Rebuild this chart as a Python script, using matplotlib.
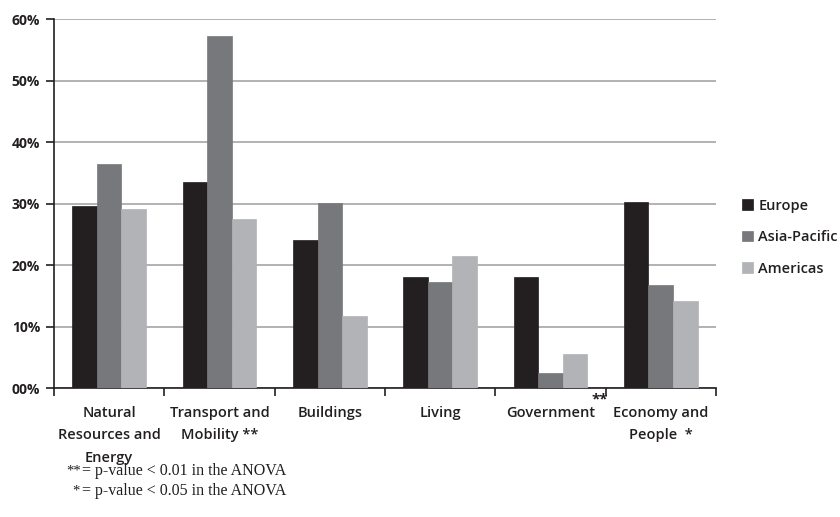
import matplotlib
matplotlib.use("Agg")
import matplotlib.pyplot as plt
import numpy as np
from matplotlib.ticker import FuncFormatter, FixedLocator

categories = ["Natural\nResources and\nEnergy", "Transport and\nMobility **", "Buildings",
              "Living", "Government", "Economy and\nPeople  *"]
series = ["Europe", "Asia-Pacific", "Americas"]
europe = [29.6, 33.5, 24.1, 18.0, 18.0, 30.2]
asia = [36.4, 57.2, 30.1, 17.2, 2.5, 16.7]
americas = [29.1, 27.5, 11.7, 21.5, 5.6, 14.1]
colors = ["#231f20", "#77787b", "#b1b3b6"]
yticks = [0, 10, 20, 30, 40, 50, 60]

font = "Open Sans"
fig = plt.figure(figsize=(8.4, 5.17), dpi=100)
ax = fig.add_axes([0.0643, 0.2495, 0.788, 0.7137])

n = len(categories)
x = np.arange(n)
w = 0.223
for i, (vals, c, name) in enumerate(zip([europe, asia, americas], colors, series)):
    ax.bar(x + (i - 1) * w, vals, width=w, color=c, edgecolor=c, linewidth=0.5, label=name, zorder=3)

ax.set_xlim(-0.5, n - 0.5)
ax.set_ylim(0, 60)
ax.set_yticks(yticks)
ax.yaxis.set_major_formatter(FuncFormatter(lambda v, p: "%02d%%" % v))
ax.grid(axis="y", color="#a6a6a6", linewidth=1.2, zorder=0)
ax.set_axisbelow(True)
for s in ["top", "right"]:
    ax.spines[s].set_visible(False)
ax.spines["left"].set_color("#231f20")
ax.spines["bottom"].set_color("#231f20")
ax.spines["left"].set_linewidth(1.2)
ax.spines["bottom"].set_linewidth(1.2)

ax.set_xticks(x)
ax.set_xticklabels(categories, fontfamily=font, fontsize=10.5, fontweight="semibold",
                   color="#231f20", linespacing=1.75)
ax.tick_params(axis="x", which="major", length=0, pad=13)
ax.xaxis.set_minor_locator(FixedLocator(np.arange(n + 1) - 0.5))
ax.tick_params(axis="x", which="minor", length=6, width=1.2, color="#231f20", direction="out")
for lab in ax.get_xticklabels():
    lab.set_verticalalignment("top")
ax.tick_params(axis="y", length=6, width=1.2, color="#231f20", direction="out", pad=4)
for lab in ax.get_yticklabels():
    lab.set_fontfamily(font)
    lab.set_fontsize(10)
    lab.set_fontweight("bold")
    lab.set_color("#231f20")

# superscript ** for Government
ax.annotate("**", xy=(4.5, 0), xycoords="data", xytext=(-4.5, -8.5), textcoords="offset points",
            fontsize=11, fontweight="bold", fontfamily=font, color="#231f20", ha="center", va="center")

leg = ax.legend(loc="center left", bbox_to_anchor=(1.02, 0.409), frameon=False,
                prop={"family": font, "size": 10.5, "weight": "semibold"}, handlelength=0.7,
                handleheight=0.7, handletextpad=0.4, labelspacing=1.2)
for t in leg.get_texts():
    t.set_color("#231f20")

ser = "Liberation Serif"
fs = 11.5
fig.text(66 / 840, 1 - 471 / 517, "**", fontfamily=ser, fontsize=10.5, va="center", ha="left", color="#231f20")
fig.text(82 / 840, 1 - 471 / 517, "= p-value < 0.01 in the ANOVA", fontfamily=ser,
         fontsize=fs, va="center", ha="left", color="#231f20")
fig.text(72 / 840, 1 - 491 / 517, "*", fontfamily=ser, fontsize=10.5, va="center", ha="left", color="#231f20")
fig.text(82 / 840, 1 - 491 / 517, "= p-value < 0.05 in the ANOVA", fontfamily=ser,
         fontsize=fs, va="center", ha="left", color="#231f20")

fig.savefig("out.png", dpi=100)
